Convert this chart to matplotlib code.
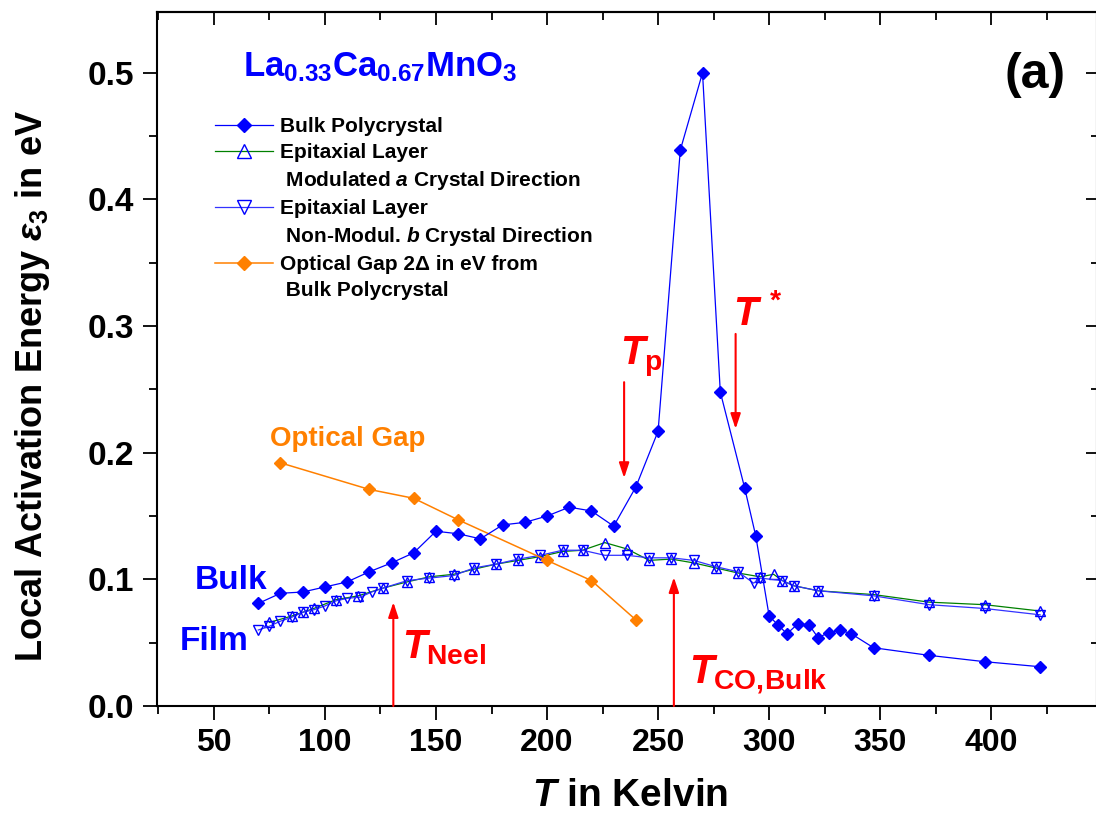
import numpy as np
import matplotlib
matplotlib.use("Agg")
import matplotlib.pyplot as plt
from matplotlib import font_manager
from matplotlib.lines import Line2D


# bulk polycrystal, local activation energy (eV)
T_bulk = [70, 80, 90, 100, 110, 120, 130, 140, 150, 160, 170, 180, 190, 200,
          210, 220, 230, 240, 250, 260, 270, 278, 289, 294, 300, 304, 308,
          313, 318, 322, 327, 332, 337, 347, 372, 397, 422]
E_bulk = [0.081, 0.089, 0.090, 0.094, 0.098, 0.106, 0.113, 0.121, 0.138,
          0.136, 0.132, 0.143, 0.145, 0.150, 0.157, 0.154, 0.142, 0.173,
          0.217, 0.439, 0.500, 0.248, 0.172, 0.134, 0.071, 0.064, 0.057,
          0.065, 0.064, 0.054, 0.058, 0.060, 0.057, 0.046, 0.040, 0.035, 0.031]

# epitaxial layer, modulated a direction
T_film_a = [75, 85, 90, 95, 105, 115, 126, 137, 147, 158, 167, 177, 187, 197,
            207, 216, 226, 236, 246, 256, 266, 276, 286, 296, 302, 306, 311,
            322, 347, 372, 397, 422]
E_film_a = [0.066, 0.071, 0.074, 0.077, 0.084, 0.087, 0.093, 0.098, 0.102,
            0.104, 0.108, 0.112, 0.115, 0.118, 0.122, 0.123, 0.129, 0.124,
            0.115, 0.116, 0.113, 0.109, 0.105, 0.102, 0.104, 0.099, 0.095,
            0.091, 0.088, 0.082, 0.080, 0.075]

# epitaxial layer, non-modulated b direction
T_film_b = [70, 75, 80, 85, 90, 95, 100, 105, 110, 116, 121, 126, 137, 147,
            158, 167, 177, 187, 197, 207, 216, 226, 236, 246, 256, 266, 276,
            286, 293, 296, 306, 311, 322, 347, 372, 397, 422]
E_film_b = [0.060, 0.063, 0.067, 0.070, 0.074, 0.076, 0.079, 0.083, 0.085,
            0.086, 0.090, 0.093, 0.099, 0.101, 0.103, 0.109, 0.112, 0.116,
            0.119, 0.123, 0.123, 0.119, 0.119, 0.117, 0.117, 0.115, 0.110,
            0.106, 0.097, 0.101, 0.099, 0.095, 0.091, 0.087, 0.080, 0.077, 0.072]

# optical gap 2Delta (eV), bulk polycrystal
T_opt = [80, 120, 140, 160, 200, 220, 240]
E_opt = [0.192, 0.171, 0.164, 0.147, 0.115, 0.099, 0.068]

x_ticks = [50, 100, 150, 200, 250, 300, 350, 400]
y_ticks = [0.0, 0.1, 0.2, 0.3, 0.4, 0.5]

# marker arrows: (T, tail, head)
arrows = {
    "neel": (130.8, 0.0, 0.082),
    "co": (257.1, 0.0, 0.1017),
    "p": (234.7, 0.2557, 0.180),
    "star": (284.9, 0.2938, 0.2188),
}


plt.rcParams["font.family"] = "Liberation Sans"
plt.rcParams["font.weight"] = "bold"
plt.rcParams["mathtext.fontset"] = "custom"
plt.rcParams["mathtext.rm"] = "Liberation Sans:bold"
plt.rcParams["mathtext.bf"] = "Liberation Sans:bold"
plt.rcParams["mathtext.it"] = "Liberation Sans:italic:bold"
plt.rcParams["mathtext.sf"] = "Liberation Sans:bold"

try:
    font_manager.findfont(font_manager.FontProperties(family="Liberation Sans Narrow", weight="bold"),
                          fallback_to_default=False)
    narrow = "Liberation Sans Narrow"
    ylab_size, xlab_size, xtick_size = 31, 33, 28
except ValueError:
    narrow = "Liberation Sans"
    ylab_size, xlab_size, xtick_size = 26, 28, 23

BLUE = "#0000ff"
RED = "#ff0000"
ORANGE = "#ff8000"

fig = plt.figure(figsize=(10.96, 8.32), dpi=100)
ax = fig.add_axes([157 / 1096, 126 / 832, 940 / 1096, 694 / 832])

l_a, = ax.plot(T_film_a, E_film_a, color="#008000", lw=0.9, marker="^", ms=7.5,
               mfc="none", mec=BLUE, mew=1.0)
l_b, = ax.plot(T_film_b, E_film_b, color="#3333ff", lw=0.9, marker="v", ms=7.5,
               mfc="none", mec=BLUE, mew=1.0)
l_opt, = ax.plot(T_opt, E_opt, color=ORANGE, lw=1.1, marker="D", ms=5.8,
                 mfc=ORANGE, mec=ORANGE)
l_bulk, = ax.plot(T_bulk, E_bulk, color=BLUE, lw=0.9, marker="D", ms=5.8,
                  mfc=BLUE, mec=BLUE)

ax.set_xlim(24.4, 447.6)
ax.set_ylim(0, 0.548)

ax.set_xticks(x_ticks)
ax.set_xticklabels([str(t) for t in x_ticks], fontsize=xtick_size, family=narrow, weight="bold")
ax.set_xticks(np.arange(25, 450, 25), minor=True)
ax.set_yticks(y_ticks)
ax.set_yticklabels(["%.1f" % v for v in y_ticks], fontsize=24, weight="bold")
ax.set_yticks(np.arange(0, 0.55, 0.05), minor=True)
ax.tick_params(which="major", direction="out", length=10, width=1.3)
ax.tick_params(which="minor", direction="out", length=6, width=1.3)
ax.tick_params(axis="x", which="major", pad=6)
ax.tick_params(axis="y", which="major", pad=6.5)
for s in ax.spines.values():
    s.set_linewidth(1.5)

secx = ax.secondary_xaxis("top")
secx.set_xticks(x_ticks)
secx.set_xticks(np.arange(25, 450, 25), minor=True)
secx.tick_params(which="major", direction="in", length=9.5, width=1.3, labeltop=False, labelbottom=False)
secx.tick_params(which="minor", direction="in", length=5.5, width=1.3)
secx.spines["top"].set_linewidth(1.5)

secy = ax.secondary_yaxis("right")
secy.set_yticks(y_ticks)
secy.set_yticks(np.arange(0, 0.55, 0.05), minor=True)
secy.tick_params(which="major", direction="in", length=8, width=1.3, labelright=False, labelleft=False)
secy.tick_params(which="minor", direction="in", length=4.5, width=1.3)

ax.set_xlabel(r"$T$ in Kelvin", fontsize=xlab_size, family=narrow, weight="bold")
ax.xaxis.set_label_coords((630 - 157) / 940, -(778 - 706) / 694)
ax.set_ylabel(r"Local Activation Energy $\varepsilon_3$ in eV", fontsize=ylab_size,
              family=narrow, weight="bold")
ax.yaxis.set_label_coords(-(157 - 52) / 940, (706 - 386) / 694)

for key, (tx, y0, y1) in arrows.items():
    ax.annotate("", xy=(tx, y1), xytext=(tx, y0),
                arrowprops=dict(arrowstyle="-|>,head_length=0.45,head_width=0.15",
                                color=RED, lw=1.5, shrinkA=0, shrinkB=0, mutation_scale=20))

ax.text(134.7, 0.0379, r"$T_{\mathbf{Neel}}$", color=RED, fontsize=29, ha="left", va="baseline")
ax.text(263.9, 0.0182, r"$T_{\mathbf{CO,\!Bulk}}$", color=RED, fontsize=29, ha="left", va="baseline")
ax.text(232.8, 0.2694, r"$T_{\mathbf{p}}$", color=RED, fontsize=29, ha="left", va="baseline")
ax.text(283.7, 0.301, r"$T^{\,*}$", color=RED, fontsize=29, ha="left", va="baseline")

ax.text(75.2, 0.2054, "Optical Gap", color=ORANGE, fontsize=20, weight="bold",
        ha="left", va="baseline")
ax.text(41.5, 0.0924, "Bulk", color=BLUE, fontsize=24, weight="bold", ha="left", va="baseline")
ax.text(34.7, 0.0442, "Film", color=BLUE, fontsize=24, weight="bold", ha="left", va="baseline")

ax.text((243 - 157) / 940, (706 - 76.7) / 694,
        r"$\mathbf{La_{0.33}Ca_{0.67}MnO_3}$", color=BLUE, fontsize=25,
        transform=ax.transAxes, ha="left", va="baseline")
ax.text((1035 - 157) / 940, (706 - 75) / 694, "(a)", fontsize=36, weight="bold",
        transform=ax.transAxes, ha="center", va="center")

blank = Line2D([], [], ls="none")
ax.legend(handles=[l_bulk, l_a, blank, l_b, blank, l_opt, blank],
          labels=["Bulk Polycrystal",
                  "Epitaxial Layer",
                  r" Modulated $a$ Crystal Direction",
                  "Epitaxial Layer",
                  r" Non-Modul. $b$ Crystal Direction",
                  "Optical Gap 2\u0394 in eV from",
                  " Bulk Polycrystal"],
          loc="upper left", bbox_to_anchor=((215 - 157) / 940, (706 - 117) / 694),
          frameon=False, borderpad=0, borderaxespad=0, handlelength=2.8,
          handletextpad=0.3, labelspacing=0.34, markerscale=1.3,
          prop={"weight": "bold", "size": 15})

fig.savefig("out.png", dpi=100)
